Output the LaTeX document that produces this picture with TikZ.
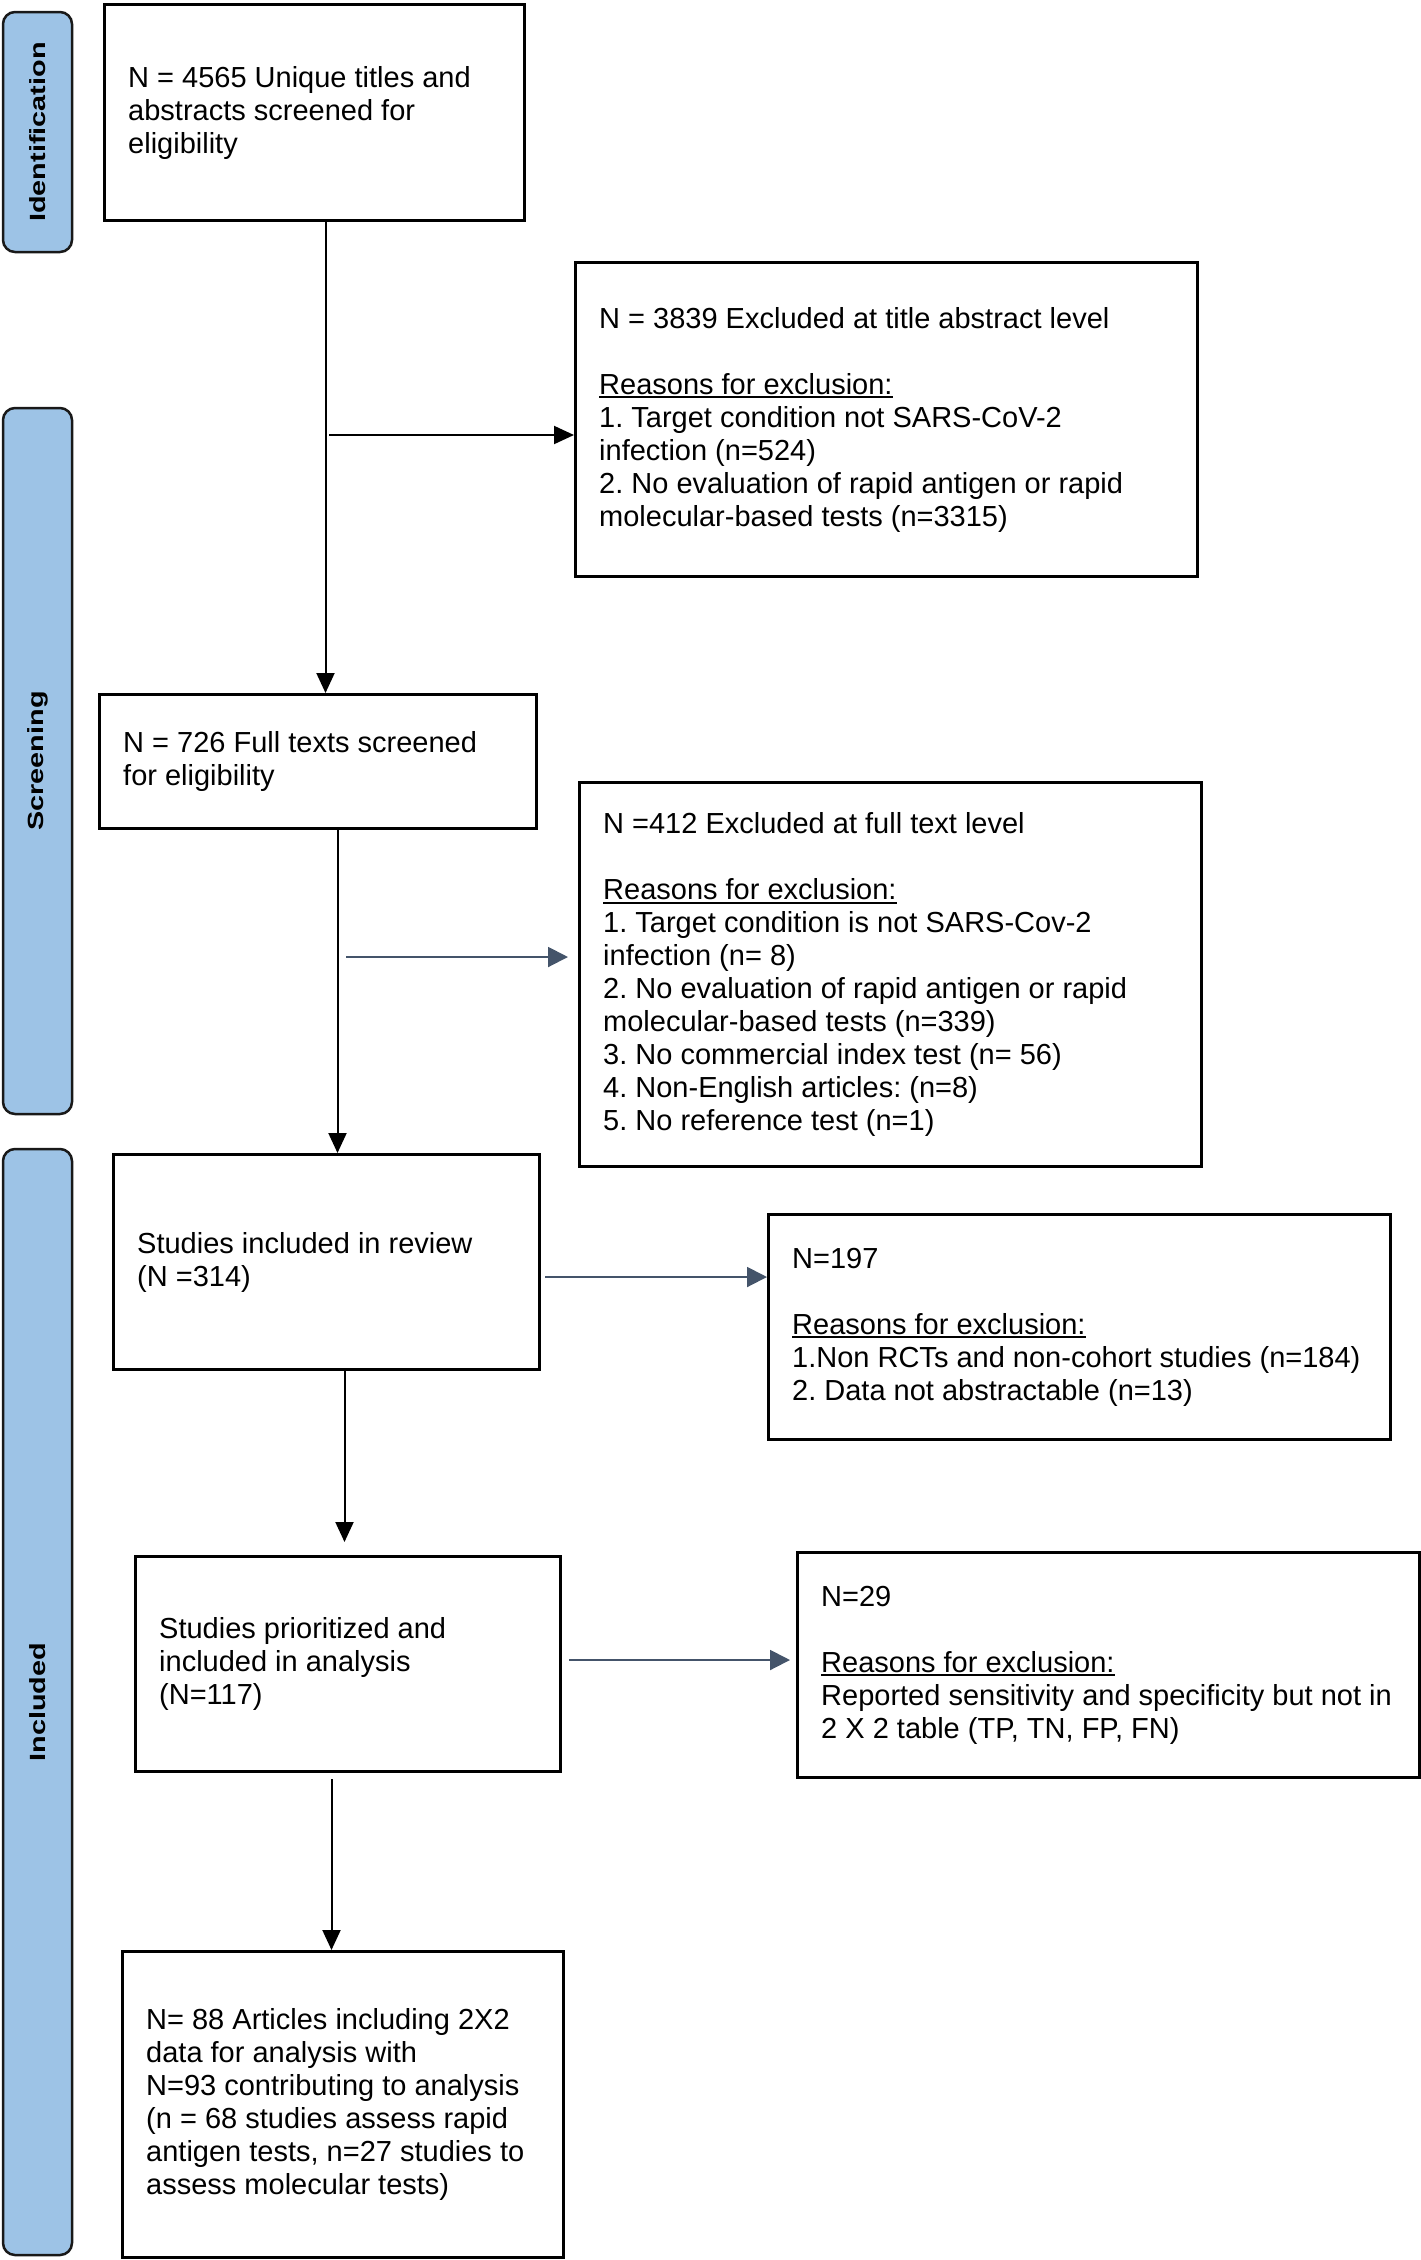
\documentclass[tikz,border=0pt]{standalone}
\usepackage{fontspec}
\setmainfont{Liberation Sans}
\newfontfamily\tabfont{Liberation Sans}[FakeStretch=1.31]
\usetikzlibrary{arrows.meta}
\usetikzlibrary{positioning}
\definecolor{tabblue}{HTML}{9DC3E6}
\definecolor{slate}{HTML}{44546A}
\frenchspacing
% underline with a heavier rule
\newcommand{\undr}[1]{{\setbox0\hbox{#1}\rlap{\rule[-4pt]{\wd0}{1.8pt}}\box0}}
\tikzstyle{box_node} = [
    rectangle,
    draw=black,
    line width=3pt,
    anchor=north west,
    inner sep=0pt
]
\tikzstyle{txt_node} = [
    align=left,
    inner sep=0pt,
    font=\fontsize{29}{33}\selectfont
]
\tikzstyle{tab_node} = [
    rectangle,
    rounded corners=12pt,
    draw=black!90,
    line width=2.5pt,
    fill=tabblue,
    rotate=90,
    minimum height=69pt, % width of the side bar
    font=\tabfont\bfseries\fontsize{22}{24}\selectfont
]
\tikzstyle{down_arrow} = [
    line width=2pt,
    -{Triangle[length=20pt, width=18pt]}
]
\tikzstyle{side_arrow} = [
    line width=2pt,
    color=slate,
    -{Triangle[length=20pt, width=20pt]}
]

\begin{document}
\begin{tikzpicture}[x=1pt, y=-1pt]
\useasboundingbox (0,0) rectangle (1421,2260);

% side bars
\node [tab_node, minimum width=240pt] (tab_ident) at (37.5,132) {Identification};
\node [tab_node, minimum width=706pt] (tab_screen) at (37.5,761) {Screening};
\node [tab_node, minimum width=1106pt] (tab_incl) at (37.5,1702) {Included};

% main column
\node [box_node, minimum width=420pt, minimum height=216pt] (ident) at (103,3) {};
\node [box_node, minimum width=437pt, minimum height=134pt] (screen) at (98,693) {};
\node [box_node, minimum width=426pt, minimum height=215pt] (review) at (112,1153) {};
\node [box_node, minimum width=425pt, minimum height=215pt] (prior) at (134,1555) {};
\node [box_node, minimum width=441pt, minimum height=306pt] (final) at (121,1950) {};

% exclusions
\node [box_node, minimum width=622pt, minimum height=314pt] (excl1) at (574,261) {};
\node [box_node, minimum width=622pt, minimum height=384pt] (excl2) at (578,781) {};
\node [box_node, minimum width=622pt, minimum height=225pt] (excl3) at (767,1213) {};
\node [box_node, minimum width=622pt, minimum height=225pt] (excl4) at (796,1551) {};

% texts
\node [txt_node, right=25pt of ident.west] (ident_txt) {N = 4565 Unique titles and\\abstracts screened for\\eligibility};
\node [txt_node, right=25pt of screen.west] (screen_txt) {N = 726 Full texts screened\\for eligibility};
\node [txt_node, right=25pt of review.west] (review_txt) {Studies included in review\\(N =314)};
\node [txt_node, right=25pt of prior.west] (prior_txt) {Studies prioritized and\\included in analysis\\(N=117)};
\node [txt_node, right=25pt of final.west] (final_txt) {N= 88 Articles including 2X2\\data for analysis with\\N=93 contributing to analysis\\(n = 68 studies assess rapid\\antigen tests, n=27 studies to\\assess molecular tests)};

\node [txt_node, right=25pt of excl1.west] (excl1_txt) {N = 3839 Excluded at title abstract level\\[33pt]\undr{Reasons for exclusion:}\\1. Target condition not SARS-CoV-2\\infection (n=524)\\2. No evaluation of rapid antigen or rapid\\molecular-based tests (n=3315)};
\node [txt_node, right=25pt of excl2.west] (excl2_txt) {N =412 Excluded at full text level\\[33pt]\undr{Reasons for exclusion:}\\1. Target condition is not SARS-Cov-2\\infection (n= 8)\\2. No evaluation of rapid antigen or rapid\\molecular-based tests (n=339)\\3. No commercial index test (n= 56)\\4. Non-English articles: (n=8)\\5. No reference test (n=1)};
\node [txt_node, right=25pt of excl3.west] (excl3_txt) {N=197\\[33pt]\undr{Reasons for exclusion:}\\1.Non RCTs and non-cohort studies (n=184)\\2. Data not abstractable (n=13)};
\node [txt_node, right=25pt of excl4.west] (excl4_txt) {N=29\\[33pt]\undr{Reasons for exclusion:}\\Reported sensitivity and specificity but not in\\2 X 2 table (TP, TN, FP, FN)};

% flow down
\draw [down_arrow] ([xshift=11pt]ident.south) -- ([xshift=11pt]ident.south |- screen.north);
\draw [down_arrow] ([xshift=19.5pt]screen.south) -- ([xshift=19.5pt]screen.south |- review.north);
\draw [down_arrow] ([xshift=18pt]review.south) -- ([xshift=18pt, yshift=13pt]review.south |- prior.north);
\draw [down_arrow] ([xshift=-16.5pt, yshift=-6pt]prior.south) -- ([xshift=-16.5pt]prior.south |- final.north);

% flow sideways
\coordinate (j1) at (329,435);
\coordinate (j2) at (346,957);
\coordinate (j3) at (545,1277);
\coordinate (j4) at (569,1660);
\draw [down_arrow] (j1) -- (j1 -| excl1.west);
\draw [side_arrow] (j2) -- ([xshift=-10pt]j2 -| excl2.west);
\draw [side_arrow] (j3) -- (j3 -| excl3.west);
\draw [side_arrow] (j4) -- ([xshift=-6pt]j4 -| excl4.west);
\end{tikzpicture}
\end{document}
